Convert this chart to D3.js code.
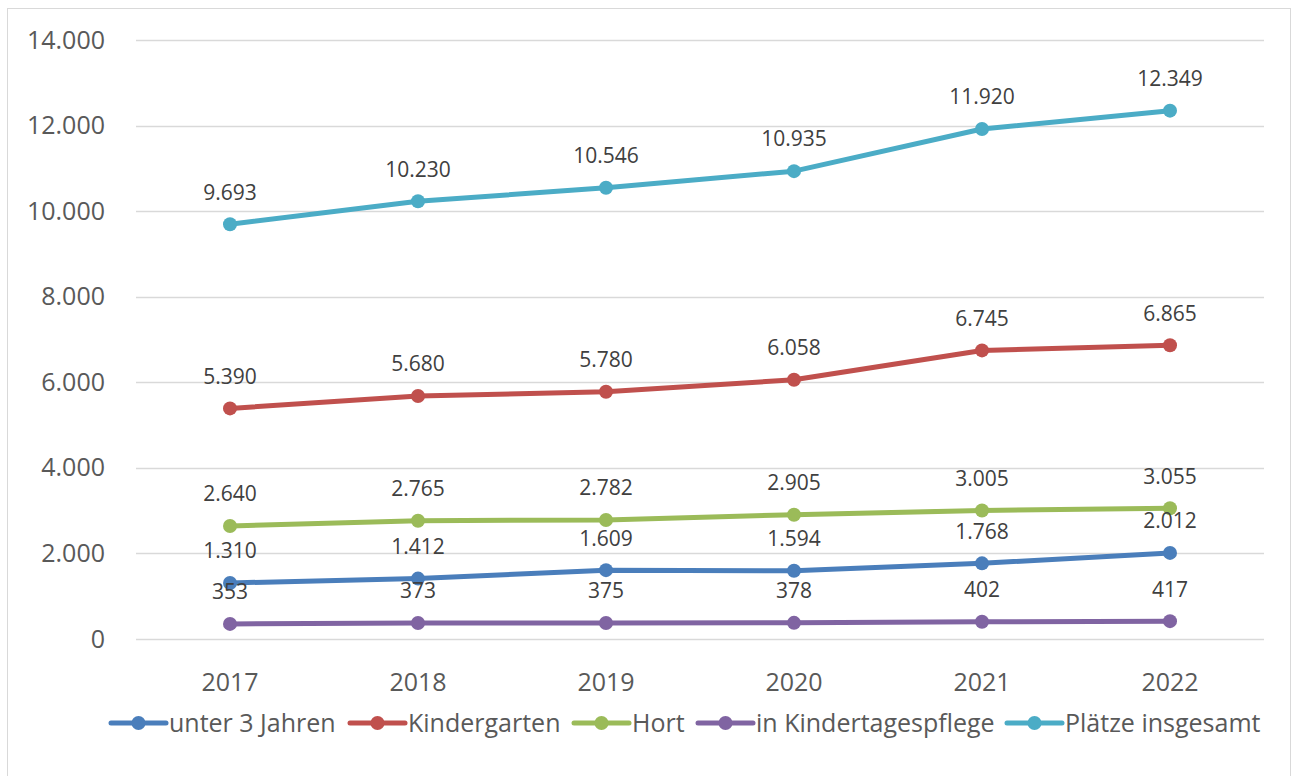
<!DOCTYPE html>
<html>
<head>
<meta charset="utf-8">
<script src="https://cdn.jsdelivr.net/npm/d3@7"></script>
<style>
  html, body { margin: 0; padding: 0; background: #fff; }
  svg { display: block; }
</style>
</head>
<body>
<script>
// Betreuungsplätze nach Art, 2017–2022
const years = ["2017", "2018", "2019", "2020", "2021", "2022"];
const seriesNames = ["unter 3 Jahren", "Kindergarten", "Hort", "in Kindertagespflege", "Plätze insgesamt"];
const unter3 = [1310, 1412, 1609, 1594, 1768, 2012];
const kindergarten = [5390, 5680, 5780, 6058, 6745, 6865];
const hort = [2640, 2765, 2782, 2905, 3005, 3055];
const tagespflege = [353, 373, 375, 378, 402, 417];
const insgesamt = [9693, 10230, 10546, 10935, 11920, 12349];
const yTicks = [0, 2000, 4000, 6000, 8000, 10000, 12000, 14000];
const colors = ["#4a7ebb", "#c0504d", "#9bbb59", "#8064a2", "#4bacc6"];

const seriesValues = [unter3, kindergarten, hort, tagespflege, insgesamt];

const W = 1291, H = 776;
const margin = { left: 136, right: 27, top: 40, bottom: 137 };
const fontFam = "'Open Sans', 'Noto Sans', sans-serif";

const svg = d3.select("body").append("svg")
  .attr("width", W).attr("height", H);

// chart frame
svg.append("rect")
  .attr("x", 7.5).attr("y", 8.5)
  .attr("width", W - 8).attr("height", H - 8)
  .attr("fill", "#fff").attr("stroke", "#d9d9d9").attr("stroke-width", 1);

const x = d3.scaleBand().domain(years)
  .range([margin.left, W - margin.right]);
const y = d3.scaleLinear().domain([0, 14000])
  .range([H - margin.bottom, margin.top]);

const fmt = v => d3.format(",")(v).replace(/,/g, ".");

// horizontal gridlines
const grid = svg.append("g");
grid.selectAll("line").data(yTicks).join("line")
  .attr("x1", margin.left).attr("x2", W - margin.right)
  .attr("y1", d => Math.round(y(d)) + 0.5).attr("y2", d => Math.round(y(d)) + 0.5)
  .attr("stroke", "#d9d9d9").attr("stroke-width", 1.5);

// y axis labels
const yAxis = d3.axisLeft(y).tickValues(yTicks).tickFormat(fmt).tickSize(0).tickPadding(0);
const yg = svg.append("g").attr("transform", `translate(105,0)`).call(yAxis);
yg.select(".domain").remove();
yg.selectAll("text")
  .attr("font-family", fontFam).attr("font-size", 25).attr("fill", "#595959");

// x axis labels
const xAxis = d3.axisBottom(x).tickSize(0).tickPadding(0);
const xg = svg.append("g").attr("transform", `translate(0,${H - margin.bottom + 34})`).call(xAxis);
xg.select(".domain").remove();
xg.selectAll("text")
  .attr("font-family", fontFam).attr("font-size", 25).attr("fill", "#595959");

const cx = d => x(d) + x.bandwidth() / 2;

const line = d3.line()
  .x((d, i) => cx(years[i]))
  .y(d => y(d));

seriesValues.forEach((vals, s) => {
  const g = svg.append("g");
  g.append("path").datum(vals)
    .attr("d", line)
    .attr("fill", "none")
    .attr("stroke", colors[s])
    .attr("stroke-width", 5)
    .attr("stroke-linejoin", "round")
    .attr("stroke-linecap", "round");
  g.selectAll("circle").data(vals).join("circle")
    .attr("cx", (d, i) => cx(years[i]))
    .attr("cy", d => y(d))
    .attr("r", 7)
    .attr("fill", colors[s]);
});

// data labels above each point
seriesValues.forEach((vals, s) => {
  svg.append("g").selectAll("text").data(vals).join("text")
    .attr("x", (d, i) => cx(years[i]))
    .attr("y", d => y(d) - 32)
    .attr("dy", "0.35em")
    .attr("text-anchor", "middle")
    .attr("font-family", fontFam)
    .attr("font-size", 21)
    .attr("fill", "#404040")
    .text(fmt);
});

// legend
const legendX = [111, 350, 574, 698, 1007];
const leg = svg.append("g").attr("transform", "translate(0,723)");
seriesNames.forEach((name, s) => {
  const g = leg.append("g").attr("transform", `translate(${legendX[s]},0)`);
  g.append("line").attr("x1", 0).attr("x2", 55).attr("y1", 0).attr("y2", 0)
    .attr("stroke", colors[s]).attr("stroke-width", 5).attr("stroke-linecap", "round");
  g.append("circle").attr("cx", 27.5).attr("cy", 0).attr("r", 7).attr("fill", colors[s]);
  g.append("text").attr("x", 58).attr("y", 0).attr("dy", "0.35em")
    .attr("font-family", fontFam).attr("font-size", 25).attr("fill", "#595959")
    .text(name);
});
</script>
</body>
</html>
